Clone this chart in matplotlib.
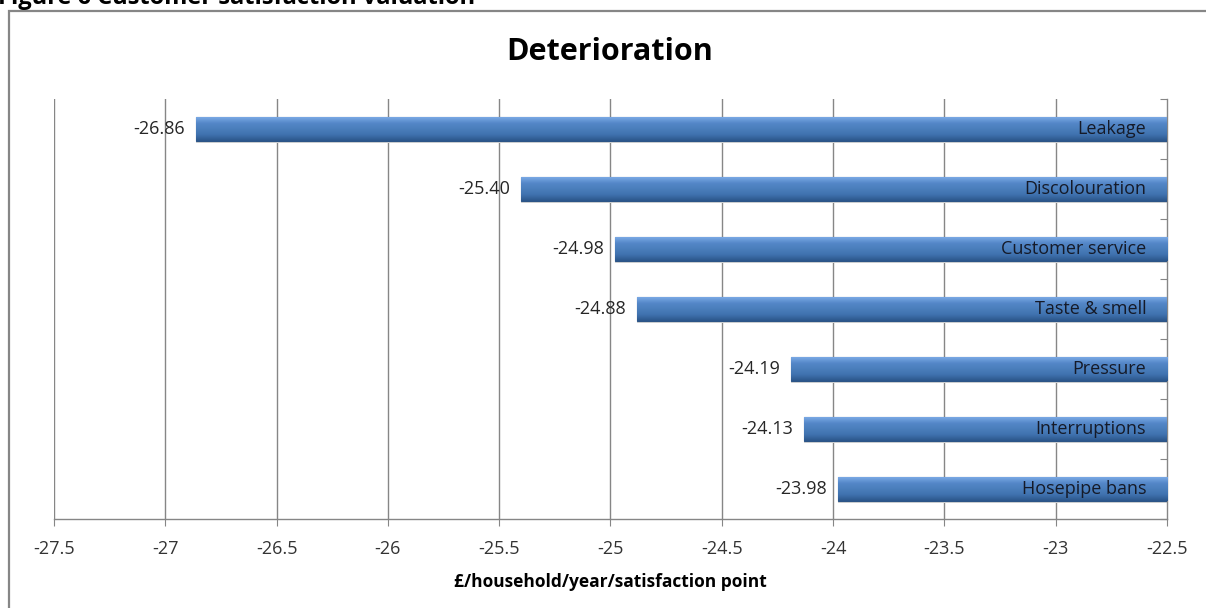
import matplotlib.pyplot as plt
import numpy as np
from matplotlib.patches import Rectangle
from matplotlib.colors import LinearSegmentedColormap

plt.rcParams['font.family'] = ['Open Sans', 'DejaVu Sans']

# data
categories = ["Leakage", "Discolouration", "Customer service", "Taste & smell",
              "Pressure", "Interruptions", "Hosepipe bans"]
values = [-26.86, -25.40, -24.98, -24.88, -24.19, -24.13, -23.98]
xticks = [-27.5, -27, -26.5, -26, -25.5, -25, -24.5, -24, -23.5, -23, -22.5]
title = "Deterioration"
xlabel = "£/household/year/satisfaction point"
caption = "Figure 6 Customer satisfaction valuation"

W, H = 1206, 608
fig = plt.figure(figsize=(W / 100, H / 100), dpi=100)

# outer chart frame (cropped on right and bottom)
fig.patches.append(Rectangle((9 / W, -0.1), 1.2, 1.1 - 11 / H, transform=fig.transFigure,
                             fill=False, edgecolor='#868686', linewidth=1.6))
fig.text(-0.002, 1 - 4 / H, caption, fontsize=17, fontweight='bold', va='baseline',
         ha='left', color='black')

ax = fig.add_axes([54 / W, (H - 519) / H, 1113 / W, 420 / H])
xmin, xmax = xticks[0], xticks[-1]
y = np.arange(len(categories))
vals = np.array(values)

# bars run from the value to the axis at the right end (Excel-style crossing)
bars = ax.barh(y, xmax - vals, left=vals, height=0.4, color='#4a7ebb',
               edgecolor='#2c5587', linewidth=0.8, zorder=3)

# glossy gradient fill for each bar
cmap = LinearSegmentedColormap.from_list('bev', ['#7aa9e4', '#5487c8', '#4a7ebb',
                                                  '#3f71ae', '#2b568a'])
grad = np.linspace(0, 1, 64).reshape(-1, 1)
for b in bars:
    x0, y0 = b.get_x(), b.get_y()
    w, h = b.get_width(), b.get_height()
    # soft shadow under bar
    ax.add_patch(Rectangle((x0, y0 + h), w, 0.04, color='#d4d4d4', zorder=2, lw=0))
    im = ax.imshow(grad, extent=(x0, x0 + w, y0 + h, y0), aspect='auto', cmap=cmap,
                   zorder=4, interpolation='bilinear')
    im.set_clip_path(b)

ax.set_xlim(xmin, xmax)
ax.set_ylim(len(categories) - 0.5, -0.5)

for yi, v, c in zip(y, values, categories):
    ax.annotate(f"{v:.2f}", xy=(v, yi), xytext=(-8, 0), textcoords='offset points',
                ha='right', va='center', fontsize=13, color='#262626', zorder=5)
    ax.annotate(c, xy=(1, yi), xycoords=('axes fraction', 'data'), xytext=(-15, 0),
                textcoords='offset points', ha='right', va='center', fontsize=13,
                color='#151a28', zorder=5)

ax.set_xticks(xticks)
ax.set_xticklabels([f"{t:g}" for t in xticks], fontsize=13, color='#333333')
ax.tick_params(axis='x', direction='out', length=5, color='#868686', pad=10)
ax.set_xlabel(xlabel, fontsize=12.5, fontweight='bold', labelpad=11)

for t in xticks[:-1]:
    ax.axvline(t, color='#868686', linewidth=1.0, zorder=1)

ax.yaxis.tick_right()
ax.set_yticks(np.arange(-0.5, len(categories), 1.0))
ax.set_yticklabels([])
ax.tick_params(axis='y', direction='in', length=5, color='#868686')

for s in ['top', 'left']:
    ax.spines[s].set_visible(False)
for s in ['bottom', 'right']:
    ax.spines[s].set_color('#868686')
    ax.spines[s].set_linewidth(1.0)

fig.text(610 / W, 1 - 52 / H, title, fontsize=22, fontweight='bold', ha='center', va='center')

fig.savefig('out.png', dpi=100)
